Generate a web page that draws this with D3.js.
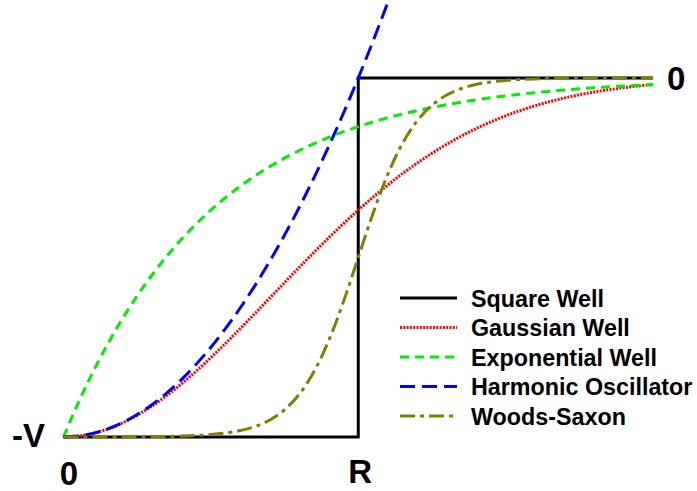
<!DOCTYPE html>
<html>
<head>
<meta charset="utf-8">
<script src="https://cdn.jsdelivr.net/npm/d3@7"></script>
<style>
  html, body { margin: 0; padding: 0; background: #fff; }
  svg { display: block; }
  text { font-family: "Liberation Sans", Arial, Helvetica, sans-serif; font-weight: bold; fill: #000; }
</style>
</head>
<body>
<svg id="chart" width="697" height="491"></svg>
<script>
// Radius in units of R, potential in units of V (depth = -1)
const radius = [0, 0.05, 0.1, 0.15, 0.2, 0.25, 0.3, 0.35, 0.4, 0.45, 0.5, 0.55, 0.6, 0.65, 0.7, 0.75, 0.8, 0.85, 0.9, 0.95,
  1.0, 1.05, 1.1, 1.15, 1.2, 1.25, 1.3, 1.35, 1.4, 1.45, 1.5, 1.55, 1.6, 1.65, 1.7, 1.75, 1.8, 1.85, 1.9, 1.95, 2.0];

const squareR = [0, 1, 1, 2];
const squareV = [-1, -1, 0, 0];

const gaussianV = [-1, -0.9975, -0.990, -0.9778, -0.9608, -0.9394, -0.9139, -0.8847, -0.8521, -0.8167, -0.7788,
  -0.7390, -0.6977, -0.6554, -0.6126, -0.5698, -0.5273, -0.4855, -0.4449, -0.4056, -0.3679, -0.3320, -0.2982,
  -0.2664, -0.2369, -0.2096, -0.1845, -0.1616, -0.1409, -0.1222, -0.1054, -0.0905, -0.0773, -0.0657, -0.0556,
  -0.0468, -0.0392, -0.0326, -0.0271, -0.0223, -0.0183];

const exponentialV = [-1, -0.9048, -0.8187, -0.7408, -0.6703, -0.6065, -0.5488, -0.4966, -0.4493, -0.4066, -0.3679,
  -0.3329, -0.3012, -0.2725, -0.2466, -0.2231, -0.2019, -0.1827, -0.1653, -0.1496, -0.1353, -0.1225, -0.1108,
  -0.1003, -0.0907, -0.0821, -0.0743, -0.0672, -0.0608, -0.0550, -0.0498, -0.0450, -0.0408, -0.0369, -0.0334,
  -0.0302, -0.0273, -0.0247, -0.0224, -0.0202, -0.0183];

// Harmonic oscillator runs off the top of the frame just past R
const harmonicV = [-1, -0.9975, -0.99, -0.9775, -0.96, -0.9375, -0.91, -0.8775, -0.84, -0.7975, -0.75, -0.6975,
  -0.64, -0.5775, -0.51, -0.4375, -0.36, -0.2775, -0.19, -0.0975, 0, 0.1025, 0.21, 0.3225];

const woodsSaxonV = [-1, -0.9999, -0.9999, -0.9998, -0.9997, -0.9994, -0.9991, -0.9985, -0.9975, -0.9959, -0.9933,
  -0.9890, -0.9820, -0.9707, -0.9526, -0.9241, -0.8808, -0.8176, -0.7311, -0.6225, -0.5, -0.3775, -0.2689,
  -0.1824, -0.1192, -0.0759, -0.0474, -0.0293, -0.0180, -0.0110, -0.0067, -0.0041, -0.0025, -0.0015, -0.0009,
  -0.0006, -0.0003, -0.0002, -0.0001, -0.0001, 0];

const seriesNames = ["Square Well", "Gaussian Well", "Exponential Well", "Harmonic Oscillator", "Woods-Saxon"];
const seriesColors = ["#000000", "#ff0000", "#00ee00", "#0000ff", "#808000"];
const seriesDashes = [null, "2,1.3", "9,6", "15,7", "15,5,4,5"];
const seriesWidths = [3, 3, 3, 3, 3];

const svg = d3.select("#chart");

const x = d3.scaleLinear().domain([0, 2]).range([63.5, 653]);
const y = d3.scaleLinear().domain([-1, 0]).range([437, 78]);

const zip = (rs, vs) => vs.map((v, i) => [rs[i], v]);
const seriesData = [
  zip(squareR, squareV),
  zip(radius, gaussianV),
  zip(radius, exponentialV),
  zip(radius, harmonicV),
  zip(radius, woodsSaxonV)
];

const smooth = d3.line().x(d => x(d[0])).y(d => y(d[1])).curve(d3.curveCatmullRom);
const straight = d3.line().x(d => x(d[0])).y(d => y(d[1]));

seriesData.forEach((pts, i) => {
  svg.append("path")
    .attr("d", i === 0 ? straight(pts) : smooth(pts))
    .attr("fill", "none")
    .attr("stroke", seriesColors[i])
    .attr("stroke-width", seriesWidths[i])
    .attr("stroke-dasharray", seriesDashes[i])
    .attr("stroke-linejoin", "miter");
});

// Axis labels at the well edges
svg.append("text").attr("x", 45).attr("y", 447).attr("text-anchor", "end")
  .style("font-size", "33px").text("-V");
svg.append("text").attr("x", x(0) + 5.5).attr("y", 485).attr("text-anchor", "middle")
  .style("font-size", "33px").text("0");
svg.append("text").attr("x", x(1) + 2).attr("y", 483).attr("text-anchor", "middle")
  .style("font-size", "33px").text("R");
svg.append("text").attr("x", 667).attr("y", 90)
  .style("font-size", "33px").text("0");

// Legend
const legendY = d3.scalePoint().domain(seriesNames).range([298, 416]);
const legend = svg.append("g");
seriesNames.forEach((name, i) => {
  const yy = legendY(name);
  legend.append("line")
    .attr("x1", 400).attr("x2", 457).attr("y1", yy).attr("y2", yy)
    .attr("stroke", seriesColors[i])
    .attr("stroke-width", seriesWidths[i])
    .attr("stroke-dasharray", seriesDashes[i]);
  legend.append("text")
    .attr("x", 471).attr("y", yy + 8.5)
    .style("font-size", "23.3px")
    .text(name);
});
</script>
</body>
</html>
